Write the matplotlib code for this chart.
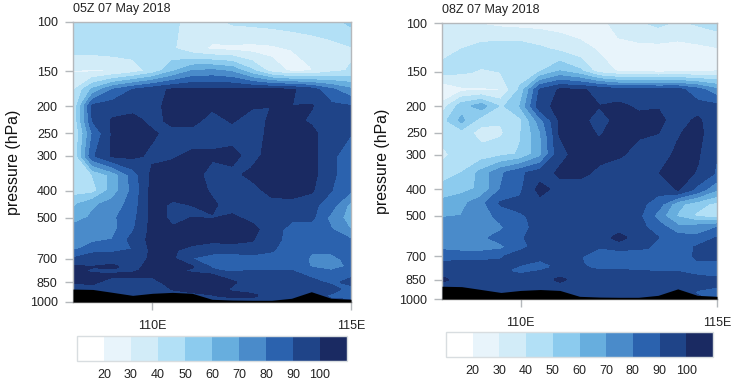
import matplotlib
matplotlib.use("Agg")
import matplotlib.pyplot as plt
import numpy as np
from matplotlib.colors import ListedColormap, BoundaryNorm

plt.rcParams['font.family'] = ['Liberation Sans', 'DejaVu Sans']

# grid
lons = [108, 108.5, 109, 109.5, 110, 110.5, 111, 111.5, 112, 112.5, 113, 113.5, 114, 114.5, 115]
pres = [100, 125, 150, 175, 200, 225, 250, 300, 350, 400, 450, 500, 550, 600, 650, 700, 750, 775, 800, 850, 900, 950, 1000]

# surface pressure, same for both panels
terrain = [899, 902, 924, 947, 931, 924, 931, 978, 984, 986, 986, 970, 919, 970, 978]

# relative humidity, one row per pressure level
rh_05z = [
    [45, 45, 45, 45, 45, 42, 36, 36, 41, 42, 43, 44, 45, 46, 52],
    [43, 43, 44, 44, 44, 41, 33, 28, 27, 26, 27, 30, 33, 36, 38],
    [29, 28, 29, 34, 43, 58, 70, 72, 68, 52, 35, 28, 29, 37, 41],
    [38, 62, 80, 90, 97, 101, 102, 102, 102, 102, 102, 101, 95, 82, 72],
    [38, 92, 95, 96, 97, 103, 103, 101, 102, 100.5, 100, 100, 100.5, 92, 90],
    [38, 90, 101, 103, 97, 102, 102, 97, 100.5, 97, 101, 103, 98, 92, 90],
    [36, 80, 101, 101, 101, 97, 97, 97, 97, 96, 102, 103, 103, 92, 90],
    [38, 88, 101, 102, 98, 99, 101, 101, 102, 97, 103, 103, 103, 93, 81],
    [47, 50, 63, 84, 102, 103, 103, 97, 98, 101.5, 103, 103, 103, 92, 83],
    [45, 45, 64, 82, 103, 103, 103, 99, 96, 97, 102, 102, 101, 90, 80],
    [58, 68, 74, 84, 103, 98.5, 100, 101, 97, 95, 97, 98, 93, 84, 66],
    [63, 72, 78, 86, 103, 98.5, 100, 99.5, 101, 98, 95, 92, 92, 76, 65],
    [75, 76, 77, 88, 103, 100.5, 103, 103, 104, 102, 96, 85, 83, 80, 69],
    [77, 79, 80, 93, 103, 104, 103, 101.5, 103, 100.5, 94, 85, 82, 81, 80],
    [79, 82, 86, 90, 102, 101, 97, 94, 93, 95, 91, 84, 80.5, 81, 82],
    [90, 100, 97, 93, 102, 101, 89, 84, 84, 85, 85, 84, 79, 78, 82],
    [101, 100, 101, 97, 103, 103, 100.5, 88, 85, 90, 88, 88, 79, 74, 82],
    [102, 98, 97, 99, 102, 102, 97, 92, 87, 90, 90, 90, 84, 80, 85],
    [102, 101, 101, 101, 101, 103, 103, 100, 94, 92, 91, 92, 88, 86, 88],
    [100, 101, 96, 96, 97, 103, 103, 102, 101, 96, 93, 93, 92, 88, 92],
    [96, 97, 96, 93, 93, 100, 102, 103, 99, 96, 96, 96, 95, 93, 86],
    [94, 94, 94, 94, 94, 96, 97, 99, 101.5, 101.5, 96, 98, 93, 88, 85],
    [92, 92, 92, 92, 92, 92, 92, 92, 92, 92, 92, 92, 92, 92, 92],
]

rh_08z = [
    [35, 33, 29, 27, 26, 26, 25, 25, 27, 33, 38, 42, 38, 41, 44],
    [37, 40, 44, 46, 46, 42, 38, 33, 29, 27, 26, 25, 25, 26, 28],
    [43, 41, 39, 40, 44, 49, 60, 52, 34, 29, 28, 26, 27, 28, 30],
    [19, 27, 28, 29, 52, 91, 101, 101, 98, 93, 93, 93, 93, 84, 72],
    [33, 55, 64, 47, 60, 96, 103, 103, 100, 102, 98, 99, 94, 93, 92],
    [45, 62, 43, 41, 47, 75, 101, 102, 97, 102, 103, 103, 94, 102, 91],
    [42, 44, 36, 38, 49, 68, 100.5, 103, 99, 103, 101, 100, 99, 103, 92],
    [38, 43, 44, 47, 51, 66, 97, 103, 103, 101, 97, 96, 101.5, 101, 90],
    [43, 50, 63, 78, 88, 95, 101.5, 103, 97, 94, 95, 99.5, 104, 99, 88],
    [55, 56, 62, 80, 88, 103, 96, 93, 93, 93, 93, 93, 100.5, 86, 70],
    [62, 67, 76, 91, 92, 96, 95, 94, 94, 94, 93, 85, 63, 54, 47],
    [69, 70, 75, 83, 89, 92, 94, 94, 94, 94, 92, 75, 58, 47, 42],
    [74, 73, 74, 78, 88, 92, 95, 95, 95, 95, 93, 85, 72, 74, 79],
    [77, 75, 78, 83, 87, 100, 96, 96, 94, 103, 95, 90, 84, 82, 90],
    [78, 76, 76, 77, 86, 95, 95, 93, 90, 92, 91, 89, 85, 91, 92],
    [84, 84, 84, 88, 96, 93, 93, 91, 80, 84, 85, 84, 82, 92, 93],
    [92, 95, 94, 93, 90, 86, 93, 92, 82, 84, 84, 87, 85, 87, 86],
    [93, 94, 93, 92, 88, 87, 93, 92, 88, 88, 88, 89, 88, 87, 86],
    [94, 93, 92, 92, 88, 91, 94, 92, 92, 92, 91, 90, 90, 88, 87],
    [102, 95, 95, 95, 95, 94, 102, 95, 95, 95, 95, 93, 93, 92, 91],
    [95, 95, 95, 95, 95, 95, 95, 95, 95, 95, 95, 94, 93, 91, 90],
    [94, 94, 94, 94, 94, 94, 94, 94, 94, 94, 94, 94, 93, 89, 86],
    [92, 92, 92, 92, 92, 92, 92, 92, 92, 92, 92, 92, 92, 92, 86],
]

levels = [0, 20, 30, 40, 50, 60, 70, 80, 90, 100, 110]
colors = ['#ffffff', '#e8f4fb', '#d2ecf8', '#b2e0f6', '#8ccbee',
          '#67aede', '#4a8bca', '#2b62ae', '#1f4488', '#1a2a62']
cbar_ticks = [20, 30, 40, 50, 60, 70, 80, 90, 100]
ptick_vals = [100, 150, 200, 250, 300, 400, 500, 700, 850, 1000]

cmap = ListedColormap(colors)
norm = BoundaryNorm(levels, cmap.N)
W, H = 732, 380
FS = 9
GREY = '#b4b8bc'


def panel(box, cbox, rh, title):
    l, t, r, b = box
    ax = fig.add_axes([l / W, 1 - b / H, (r - l) / W, (b - t) / H])
    cs = ax.contourf(lons, pres, np.array(rh), levels=levels, cmap=cmap, norm=norm)
    cs.set_edgecolor('face')
    ax.fill_between(lons, terrain, 1000, color='black', lw=0, zorder=3)
    ax.set_yscale('log')
    ax.set_xlim(108, 115)
    ax.set_ylim(1000, 100)
    ax.set_yticks(ptick_vals)
    ax.set_yticklabels([str(v) for v in ptick_vals], fontsize=FS, color='#222222')
    ax.minorticks_off()
    ax.set_xticks([110, 115])
    ax.set_xticklabels(['110E', '115E'], fontsize=FS, color='#222222')
    ax.tick_params(axis='both', length=6, width=1, color=GREY, pad=5)
    ax.tick_params(axis='x', pad=7)
    for s in ax.spines.values():
        s.set_color(GREY)
        s.set_linewidth(1)
    ax.spines['bottom'].set_color('#888888')
    ax.set_ylabel('pressure (hPa)', fontsize=11.4, labelpad=6, color='#111111')
    ax.set_title(title, loc='left', fontsize=FS, pad=7, color='#222222')

    l, t, r, b = cbox
    cax = fig.add_axes([l / W, 1 - b / H, (r - l) / W, (b - t) / H])
    cb = fig.colorbar(cs, cax=cax, orientation='horizontal', spacing='uniform', ticks=cbar_ticks)
    cb.minorticks_off()
    cb.ax.tick_params(which='both', length=0, labelsize=FS, pad=6, labelcolor='#222222')
    cb.outline.set_edgecolor('#d8dde0')
    cb.outline.set_linewidth(1)


fig = plt.figure(figsize=(W / 100, H / 100), dpi=100)
panel((73, 22, 351, 302), (77, 336, 347, 361), rh_05z, '05Z 07 May 2018')
panel((442, 23, 717, 299), (446, 332, 713, 357), rh_08z, '08Z 07 May 2018')
fig.savefig('out.png', dpi=100)
